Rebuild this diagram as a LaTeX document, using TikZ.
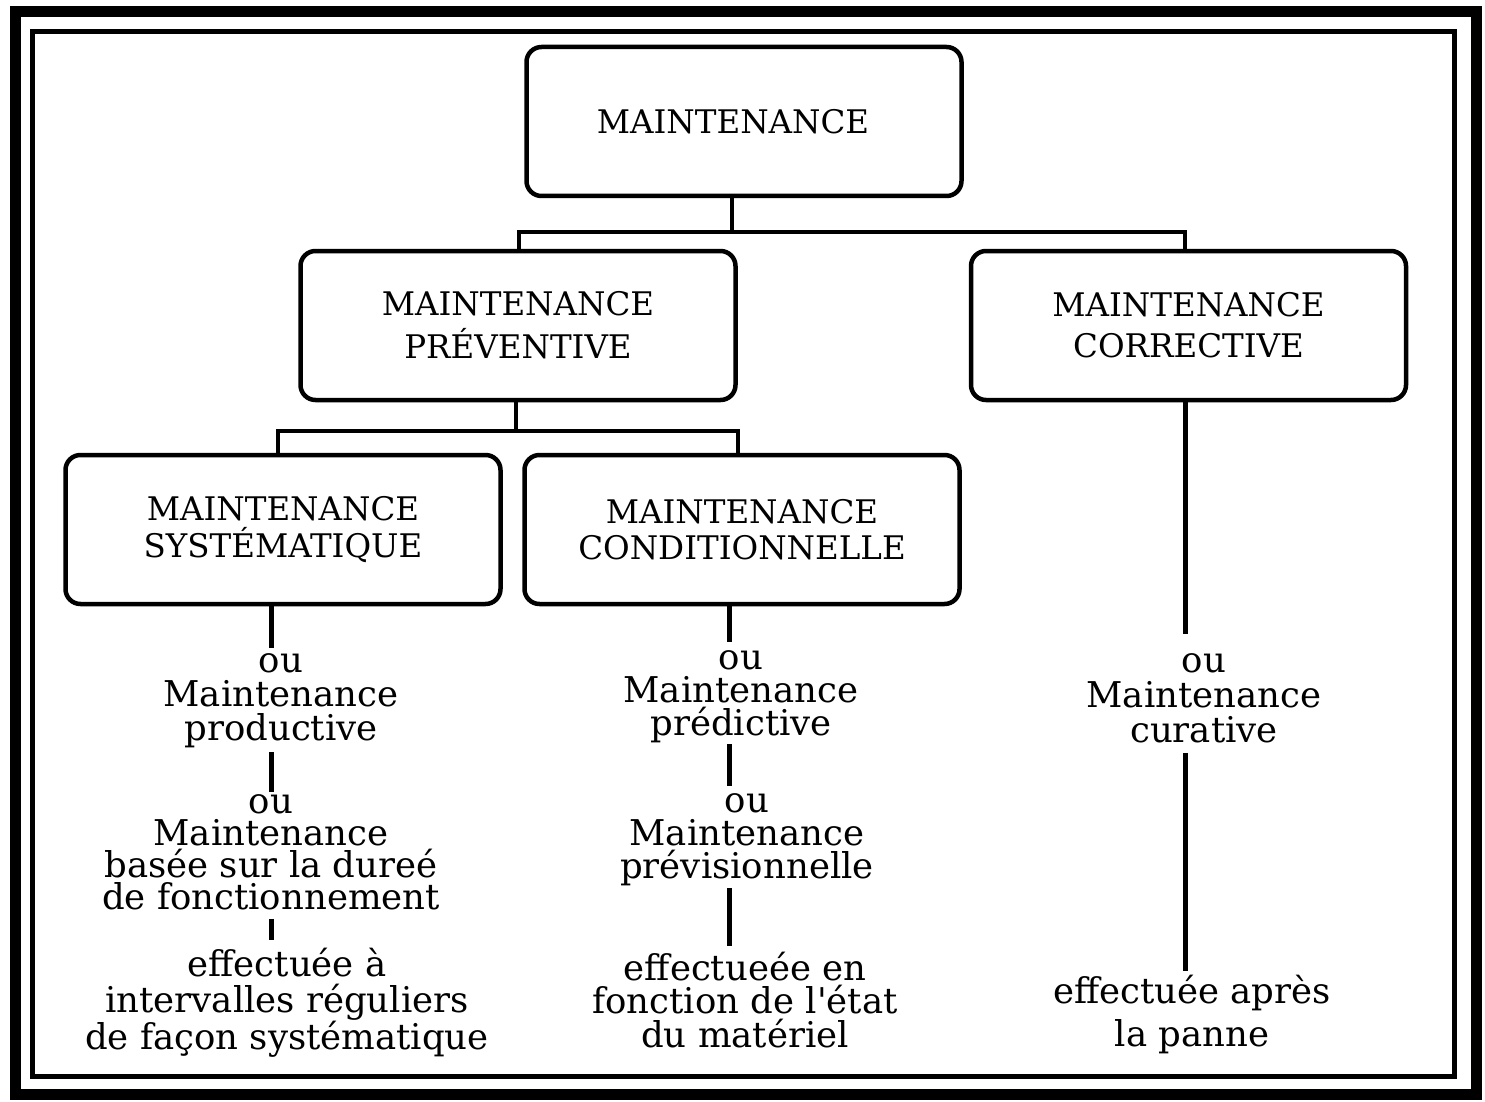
\documentclass[tikz,border=0pt]{standalone}
\usepackage{fontspec}
\setmainfont{DejaVu Serif}[Ligatures=TeXOff]
\usetikzlibrary{calc}
\begin{document}
\begin{tikzpicture}[x=1pt,y=-1pt,
  box/.style={draw, line width=4.5pt, rounded corners=15pt,
    minimum width=435pt, minimum height=149pt, inner sep=0pt, align=center},
  boxfont/.style={font=\fontsize{32.5}{#1}\selectfont},
  note/.style={align=center, inner sep=0pt, font=\fontsize{35.5}{#1}\selectfont},
  link/.style={line width=4pt},
  stem/.style={line width=5pt}
]
\useasboundingbox (0,0) rectangle (1485,1102);
\fill[white] (0,0) rectangle (1485,1102);

% double frame
\draw[line width=11pt] (15.5,11.5) rectangle (1476.5,1094.5);
\draw[line width=5pt] (32.5,31.5) rectangle (1454.5,1076);

% boxes
\node[box, boxfont=40] (m) at (744,121.5) {MAINTENANCE\hspace*{22pt}};
\node[box, boxfont=43] (p) at (518,325.5) {MAINTENANCE\\PRÉVENTIVE};
\node[box, boxfont=41] (c) at (1188.5,325.5) {MAINTENANCE\\CORRECTIVE};
\node[box, boxfont=37] (s) at (283,529.5) {MAINTENANCE\\SYSTÉMATIQUE};
\node[box, boxfont=36] (k) at (742,529.5) {MAINTENANCE\\CONDITIONNELLE};

% notes below the boxes
\node[note=34] (l1) at (281,701) {ou\\Maintenance\\productive};
\node[note=32] (l2) at (271,852) {ou\\Maintenance\\basée sur la dureé\\de fonctionnement};
\node[note=35.5] (l3) at (287,1003) {effectuée à\\intervalles réguliers\\de façon systématique};
\node[note=33] (k1) at (741,697) {ou\\Maintenance\\prédictive};
\node[note=33] (k2) at (747,840) {ou\\Maintenance\\prévisionnelle};
\node[note=33.5] (k3) at (745,1000) {effectueée en\\fonction de l'état\\du matériel};
\node[note=35] (c1) at (1204,698) {ou\\Maintenance\\curative};
\node[note=43] (c2) at (1192,1014.5) {effectuée après\\la panne};

% tree connectors
\coordinate (bus1) at (0,232);
\coordinate (bus2) at (0,430.5);
\coordinate (mOut) at ([xshift=-12pt]m.south);
\coordinate (pIn) at ([xshift=1pt]p.north);
\coordinate (cIn) at ([xshift=-3.5pt]c.north);
\coordinate (pOut) at ([xshift=-2pt]p.south);
\coordinate (sIn) at ([xshift=-5pt]s.north);
\coordinate (kIn) at ([xshift=-4pt]k.north);
\draw[link] (mOut) -- (mOut |- bus1);
\draw[link] (pIn) |- (bus1 -| cIn) -- (cIn);
\draw[link] (pOut) -- (pOut |- bus2);
\draw[link] (sIn) |- (bus2 -| kIn) -- (kIn);

% stems (shifts are in page direction: positive = upwards)
\coordinate (colS) at ([xshift=-12pt]s.south);
\coordinate (colK) at ([xshift=-12.5pt]k.south);
\coordinate (colC) at ([xshift=-3pt]c.south);
\draw[stem] (colS) -- ([yshift=6pt]l1.north -| colS);
\draw[stem] ([yshift=-4pt]l1.south -| colS) -- ([yshift=2pt]l2.north -| colS);
\draw[stem] ([yshift=-9pt]l2.south -| colS) -- ([yshift=8pt]l3.north -| colS);
\draw[stem] (colK) -- ([yshift=9pt]k1.north -| colK);
\draw[stem] ([yshift=-1pt]k1.south -| colK) -- ([yshift=8pt]k2.north -| colK);
\draw[stem] ([yshift=-2pt]k2.south -| colK) -- ([yshift=6pt]k3.north -| colK);
\draw[stem] (colC) -- ([yshift=19pt]c1.north -| colC);
\draw[stem] ([yshift=-10pt]c1.south -| colC) -- ([yshift=4pt]c2.north -| colC);
\end{tikzpicture}
\end{document}
